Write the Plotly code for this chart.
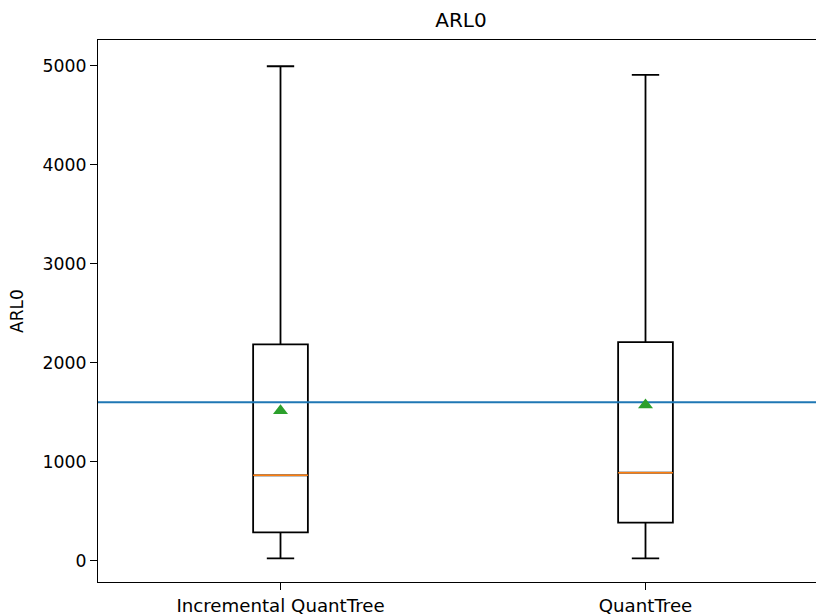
import plotly.graph_objects as go

# Box statistics for each detector (ARL0 values)
categories = ["Incremental QuantTree", "QuantTree"]
positions = [1, 2]
q1 = [285, 382]
median = [861, 887]
q3 = [2184, 2207]
lower_whisker = [22, 22]
upper_whisker = [4993, 4905]
means = [1512, 1571]
target_arl0 = 1600

BOX_W = 0.15
FONT = "DejaVu Sans"

fig = go.Figure()

for i, name in enumerate(categories):
    fig.add_trace(go.Box(
        x=[positions[i]],
        q1=[q1[i]], median=[median[i]], q3=[q3[i]],
        lowerfence=[lower_whisker[i]], upperfence=[upper_whisker[i]],
        width=BOX_W, whiskerwidth=0.5,
        line=dict(color="black", width=1.8),
        fillcolor="rgba(0,0,0,0)",
        boxpoints=False, showlegend=False, hoverinfo="skip",
    ))
    # orange median line on top of the box
    fig.add_trace(go.Scatter(
        x=[positions[i] - BOX_W / 2, positions[i] + BOX_W / 2],
        y=[median[i], median[i]],
        mode="lines", line=dict(color="#ff7f0e", width=1.6),
        showlegend=False, hoverinfo="skip",
    ))

# reference ARL0 level
fig.add_trace(go.Scatter(
    x=[0.5, 2.5], y=[target_arl0, target_arl0],
    mode="lines", line=dict(color="#1f77b4", width=2),
    showlegend=False, hoverinfo="skip",
))

# mean markers
fig.add_trace(go.Scatter(
    x=positions, y=means, mode="markers",
    marker=dict(symbol="triangle-up", color="#2ca02c", size=13,
                line=dict(width=0)),
    showlegend=False, hoverinfo="skip",
))

fig.update_layout(
    width=816, height=615,
    margin=dict(l=98, r=0, t=40, b=33),
    plot_bgcolor="white", paper_bgcolor="white",
    font=dict(family=FONT, size=17, color="black"),
    title=dict(text="ARL0", x=461 / 816, xref="container", xanchor="center",
               y=1 - 20 / 615, yref="container", yanchor="middle",
               font=dict(family=FONT, size=20, color="black")),
    xaxis=dict(
        range=[0.5, 0.5 + 718 / 365],
        tickmode="array", tickvals=positions, ticktext=categories,
        showline=True, linecolor="black", linewidth=1.2, mirror=True,
        ticks="outside", ticklen=7, tickcolor="black", tickwidth=1.2,
        showgrid=False, zeroline=False,
        tickfont=dict(family=FONT, size=18.2, color="black"),
    ),
    yaxis=dict(
        range=[-217, 5258],
        tickvals=[0, 1000, 2000, 3000, 4000, 5000],
        showline=True, linecolor="black", linewidth=1.2, mirror=False,
        ticks="outside", ticklen=7, tickcolor="black", tickwidth=1.2,
        showgrid=False, zeroline=False,
        tickfont=dict(family=FONT, size=17.3, color="black"),
    ),
    annotations=[dict(
        text="ARL0", textangle=-90, showarrow=False,
        xref="paper", yref="paper", x=(17 - 98) / 718, y=0.5,
        xanchor="center", yanchor="middle",
        font=dict(family=FONT, size=17, color="black"),
    )],
)

fig.write_html("out.html")
